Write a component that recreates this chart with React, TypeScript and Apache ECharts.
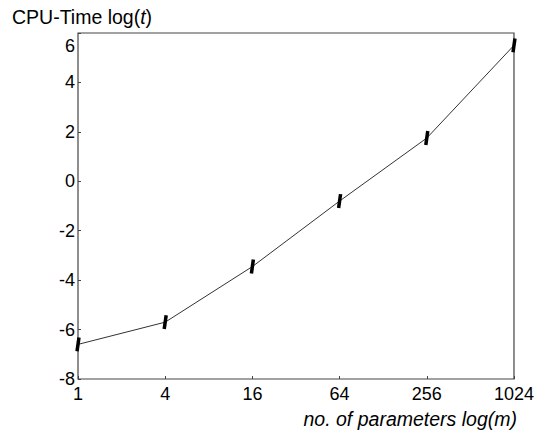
import React, { useEffect, useRef } from "react";
import * as echarts from "echarts";

const paramCounts = [1, 4, 16, 64, 256, 1024];
const logCpuTime = [-6.6, -5.7, -3.45, -0.8, 1.75, 5.5];
const yTicks = { min: -8, max: 6, interval: 2 };

export default function App() {
  const ref = useRef<HTMLDivElement>(null);
  useEffect(() => {
    if (!ref.current) return;
    const chart = echarts.init(ref.current, null, { renderer: "svg" });
    const font = "'Liberation Sans', Arial, sans-serif";
    chart.setOption({
      animation: false,
      backgroundColor: "#fff",
      grid: {
        left: 78,
        right: 19,
        top: 33,
        bottom: 55,
        show: true,
        borderColor: "#444",
        borderWidth: 1.2,
        backgroundColor: "transparent",
      },
      xAxis: {
        type: "log",
        logBase: 4,
        min: 1,
        max: 1024,
        axisLine: { show: false, onZero: false },
        axisTick: { show: true, inside: true, length: 3, lineStyle: { color: "#444" } },
        minorTick: { show: false },
        splitLine: { show: false },
        axisLabel: {
          color: "#000",
          fontFamily: font,
          fontSize: 18,
          margin: 6,
          formatter: (v: number) => String(Math.round(v)),
        },
      },
      yAxis: {
        type: "value",
        min: yTicks.min,
        max: yTicks.max,
        interval: yTicks.interval,
        axisLine: { show: false, onZero: false },
        axisTick: { show: true, inside: true, length: 3, lineStyle: { color: "#444" } },
        splitLine: { show: false },
        axisLabel: {
          color: "#000",
          fontFamily: font,
          fontSize: 18,
          margin: 3,
          formatter: (v: number) => (v === yTicks.max ? "{t|" + v + "}" : String(v)),
          rich: {
            t: { fontFamily: font, fontSize: 18, color: "#000", padding: [26, 0, 0, 0] },
          },
        },
      },
      series: [
        {
          type: "line",
          data: paramCounts.map((m, i) => [m, logCpuTime[i]]),
          lineStyle: { color: "#333", width: 1 },
          symbol: "rect",
          symbolSize: [3.5, 14],
          symbolRotate: -8,
          itemStyle: { color: "#000" },
          showSymbol: true,
          clip: false,
        },
      ],
      graphic: [
        {
          type: "text",
          left: 12,
          top: 7,
          style: {
            text: "{n|CPU-Time log(}{i|t}{n|)}",
            rich: {
              n: { fontFamily: font, fontSize: 19.5, fill: "#000" },
              i: { fontFamily: font, fontSize: 19.5, fontStyle: "italic", fill: "#000" },
            },
          },
        },
        {
          type: "text",
          right: 20,
          top: 409,
          style: {
            text: "{n|no. of parameters log(}{i|m}{n|)}",
            rich: {
              n: { fontFamily: font, fontSize: 19.5, fontStyle: "italic", fill: "#000" },
              i: { fontFamily: font, fontSize: 19.5, fontStyle: "italic", fill: "#000" },
            },
          },
        },
      ],
    });
    return () => chart.dispose();
  }, []);
  return <div ref={ref} style={{ width: 537, height: 434, position: "absolute", left: 0, top: 0 }} />;
}
